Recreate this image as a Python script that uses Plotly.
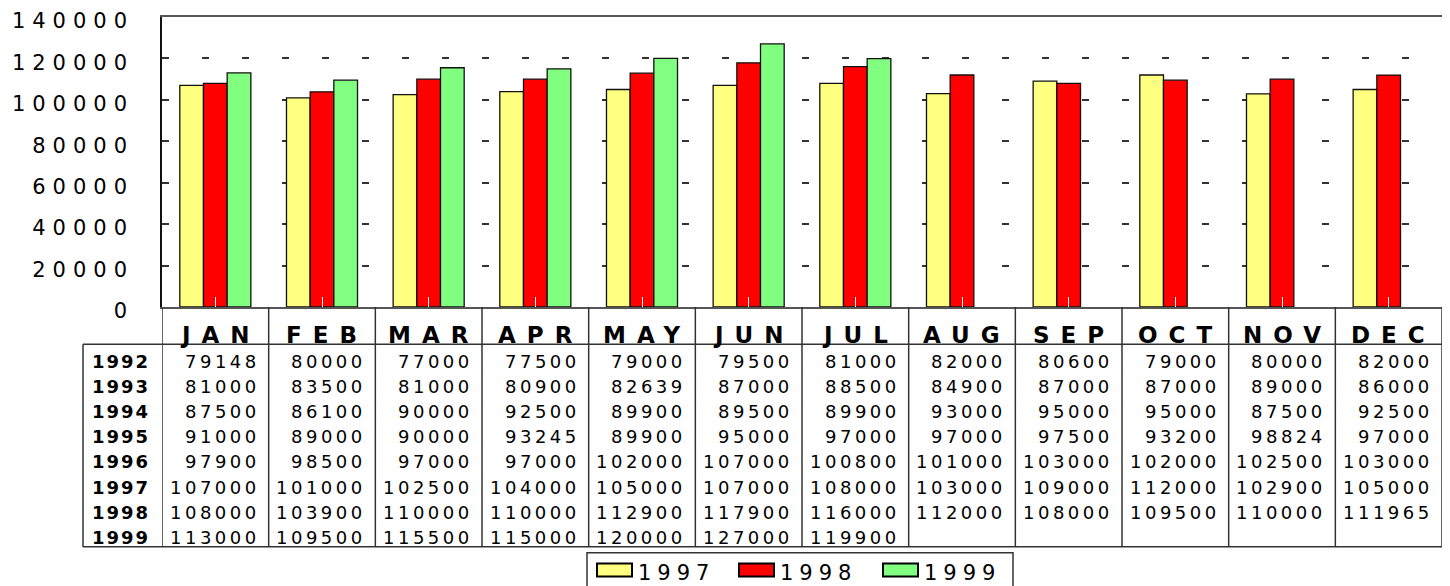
import plotly.graph_objects as go

months = ["JAN", "FEB", "MAR", "APR", "MAY", "JUN", "JUL", "AUG", "SEP", "OCT", "NOV", "DEC"]
table_years = ["1992", "1993", "1994", "1995", "1996", "1997", "1998", "1999"]
v1992 = [79148, 80000, 77000, 77500, 79000, 79500, 81000, 82000, 80600, 79000, 80000, 82000]
v1993 = [81000, 83500, 81000, 80900, 82639, 87000, 88500, 84900, 87000, 87000, 89000, 86000]
v1994 = [87500, 86100, 90000, 92500, 89900, 89500, 89900, 93000, 95000, 95000, 87500, 92500]
v1995 = [91000, 89000, 90000, 93245, 89900, 95000, 97000, 97000, 97500, 93200, 98824, 97000]
v1996 = [97900, 98500, 97000, 97000, 102000, 107000, 100800, 101000, 103000, 102000, 102500, 103000]
v1997 = [107000, 101000, 102500, 104000, 105000, 107000, 108000, 103000, 109000, 112000, 102900, 105000]
v1998 = [108000, 103900, 110000, 110000, 112900, 117900, 116000, 112000, 108000, 109500, 110000, 111965]
v1999 = [113000, 109500, 115500, 115000, 120000, 127000, 119900, None, None, None, None, None]
table_rows = [v1992, v1993, v1994, v1995, v1996, v1997, v1998, v1999]

bar_years = ["1997", "1998", "1999"]
bar_values = [v1997, v1998, v1999]
bar_colors = ["#FFFF80", "#FF0000", "#80FF80"]

y_ticks = [0, 20000, 40000, 60000, 80000, 100000, 120000, 140000]

FONT = "DejaVu Sans"
# the page body adds an 8px offset; figure is sized so it fills the 1450x586 window
OFF = 8
W, H = 1450 - OFF, 586 - OFF
PLOT_L, PLOT_R, PLOT_T, PLOT_B = 162, 1442, 17, 307   # window pixel coordinates
ML, MT = PLOT_L - OFF, PLOT_T - OFF
MR = W - (PLOT_R - OFF)
MB = H - (PLOT_B - OFF)
PW, PH = PLOT_R - PLOT_L, PLOT_B - PLOT_T


def px_x(x):
    return (x - PLOT_L) / PW


def px_y(y):
    return (PLOT_B - y) / PH


def spaced(s, sp):
    return f'<span style="letter-spacing:{sp}px">{s}</span>'


fig = go.Figure()
for name, vals, col in zip(bar_years, bar_values, bar_colors):
    fig.add_trace(go.Bar(
        x=months, y=vals, name=name,
        marker=dict(color=col, line=dict(color="#111", width=1.3)),
        showlegend=False,
    ))

annotations = []
shapes = []

# month header labels
for m in months:
    annotations.append(dict(
        x=m, xref="x", y=px_y(334.5), yref="paper", text=spaced(m, 11),
        showarrow=False, xanchor="center", yanchor="middle", xshift=5,
        font=dict(family=FONT, size=23, color="#000", weight="bold"),
    ))

# table rows
row_y0, row_dy = 361, 25.2
for r, (yr, vals) in enumerate(zip(table_years, table_rows)):
    yc = px_y(row_y0 + r * row_dy)
    annotations.append(dict(
        x=px_x(120), xref="paper", y=yc, yref="paper", text=spaced(yr, 2),
        showarrow=False, xanchor="center", yanchor="middle", xshift=1,
        font=dict(family=FONT, size=18, color="#000", weight="bold"),
    ))
    for i, v in enumerate(vals):
        if v is None:
            continue
        annotations.append(dict(
            x=i + 0.5, xref="x", y=yc, yref="paper", text=spaced(str(v), 3.5),
            showarrow=False, xanchor="right", yanchor="middle", xshift=-7,
            font=dict(family=FONT, size=18, color="#000"),
        ))

line_style = dict(color="#333", width=1.5)
# vertical column lines
for i in range(len(months) + 1):
    shapes.append(dict(type="line", xref="x", yref="paper",
                       x0=i - 0.5, x1=i - 0.5, y0=px_y(307), y1=px_y(547),
                       line=line_style))
# row label column left border
shapes.append(dict(type="line", xref="paper", yref="paper",
                   x0=px_x(83), x1=px_x(83), y0=px_y(344.3), y1=px_y(547),
                   line=line_style))
# horizontal lines
for yy in (344.3, 546.7):
    shapes.append(dict(type="line", xref="paper", yref="paper",
                       x0=px_x(83), x1=1, y0=px_y(yy), y1=px_y(yy),
                       line=line_style))

# legend
shapes.append(dict(type="rect", xref="paper", yref="paper",
                   x0=px_x(587), x1=px_x(1013), y0=px_y(552.7), y1=px_y(600),
                   line=dict(color="#333", width=1.5), fillcolor="rgba(0,0,0,0)"))
leg_x = [597, 739, 883]
for lx, name, col in zip(leg_x, bar_years, bar_colors):
    shapes.append(dict(type="rect", xref="paper", yref="paper",
                       x0=px_x(lx), x1=px_x(lx + 35), y0=px_y(563.5), y1=px_y(576.5),
                       line=dict(color="#000", width=2), fillcolor=col))
    annotations.append(dict(
        x=px_x(lx + 39), xref="paper", y=px_y(573), yref="paper", text=spaced(name, 6),
        showarrow=False, xanchor="left", yanchor="middle",
        font=dict(family=FONT, size=21, color="#000"),
    ))

fig.update_layout(
    width=W, height=H,
    margin=dict(l=ML, r=MR, t=MT, b=MB, autoexpand=False),
    paper_bgcolor="white", plot_bgcolor="white",
    barmode="group", bargap=0.334, bargroupgap=0,
    showlegend=False,
    annotations=annotations, shapes=shapes,
    xaxis=dict(
        type="category", categoryorder="array", categoryarray=months,
        range=[-0.5, 11.5], showticklabels=False, automargin=False,
        ticks="inside", ticklen=10, tickcolor="white", tickwidth=1.2,
        showline=True, linecolor="#555", linewidth=1.5, mirror=True,
        showgrid=False, zeroline=False,
    ),
    yaxis=dict(
        range=[0, 140000], tickvals=y_ticks, automargin=False,
        ticktext=[spaced(str(t), 7) for t in y_ticks],
        tickfont=dict(family=FONT, size=21, color="#000"),
        ticks="", ticklabelstandoff=22, ticklabelshift=4,
        showline=True, linecolor="#111", linewidth=1.5, mirror=True,
        showgrid=True, gridcolor="#333", gridwidth=2, griddash="7px,33px",
        zeroline=False,
    ),
)

fig.write_html("out.html")
